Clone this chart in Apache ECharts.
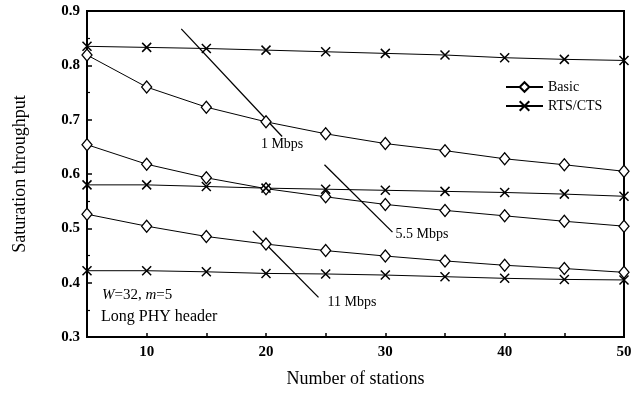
<!DOCTYPE html>
<html>
<head>
<meta charset="utf-8">
<script src="https://cdn.jsdelivr.net/npm/echarts@6/dist/echarts.min.js"></script>
<style>
  html, body { margin: 0; padding: 0; background: #fff; }
  #chart { width: 639px; height: 393px; }
</style>
</head>
<body>
<div id="chart"></div>
<script>
// Number of stations on the x axis
const stations = [5, 10, 15, 20, 25, 30, 35, 40, 45, 50];

// Saturation throughput, basic access vs RTS/CTS, per data rate
const basic1 = [0.819, 0.760, 0.723, 0.696, 0.674, 0.656, 0.643, 0.628, 0.617, 0.605];
const rts1 = [0.835, 0.833, 0.831, 0.828, 0.825, 0.822, 0.819, 0.814, 0.811, 0.809];
const basic55 = [0.654, 0.618, 0.593, 0.573, 0.558, 0.544, 0.533, 0.523, 0.513, 0.504];
const rts55 = [0.580, 0.580, 0.577, 0.574, 0.572, 0.570, 0.568, 0.566, 0.563, 0.559];
const basic11 = [0.526, 0.504, 0.485, 0.471, 0.459, 0.449, 0.440, 0.432, 0.426, 0.419];
const rts11 = [0.422, 0.422, 0.420, 0.417, 0.416, 0.414, 0.411, 0.408, 0.406, 0.405];

// Pointer lines that tag each pair of curves with its data rate
const pointer1 = [[12.9, 0.867], [21.35, 0.669]];
const pointer55 = [[24.9, 0.617], [30.6, 0.493]];
const pointer11 = [[18.9, 0.495], [24.4, 0.373]];
const rateLabels = ['1 Mbps', '5.5 Mbps', '11 Mbps'];

const yTicks = { min: 0.3, max: 0.9, step: 0.1 };

const SERIF = '"Liberation Serif", "DejaVu Serif", serif';
const CROSS = 'path://M0,0L10,10M10,0L0,10';

function pairs(vals) {
  return stations.map((s, i) => [s, vals[i]]);
}

function basicSeries(vals) {
  return {
    name: 'Basic', type: 'line', data: pairs(vals), clip: false,
    symbol: 'diamond', symbolSize: [10, 12],
    itemStyle: { color: '#fff', borderColor: '#000', borderWidth: 1.3 },
    lineStyle: { color: '#000', width: 1 },
    z: 3
  };
}

function rtsSeries(vals) {
  return {
    name: 'RTS/CTS', type: 'line', data: pairs(vals), clip: false,
    symbol: CROSS, symbolSize: 9,
    itemStyle: { color: '#000', borderColor: '#000', borderWidth: 1.5 },
    lineStyle: { color: '#000', width: 1 },
    z: 3
  };
}

function pointerSeries(pts, text, labelOpts) {
  const data = pts.map((p, i) => i === pts.length - 1
    ? { value: p, label: Object.assign({ show: true, formatter: text }, labelOpts) }
    : { value: p });
  return {
    name: text, type: 'line', data: data, clip: false,
    symbol: 'circle', symbolSize: 0.01, showSymbol: true, silent: true,
    itemStyle: { color: 'transparent' },
    lineStyle: { color: '#000', width: 1.3 },
    label: {
      color: '#000', fontFamily: SERIF, fontSize: 14
    },
    z: 2
  };
}

const chart = echarts.init(document.getElementById('chart'), null, { renderer: 'canvas' });

chart.setOption({
  backgroundColor: '#fff',
  animation: false,
  grid: {
    left: 87, right: 15, top: 11, bottom: 55,
    show: true, borderColor: '#000', borderWidth: 2, backgroundColor: 'transparent'
  },
  xAxis: {
    type: 'value', min: 5, max: 50, interval: 5,
    name: 'Number of stations', nameLocation: 'middle', nameGap: 33,
    nameTextStyle: { fontFamily: SERIF, fontSize: 18, color: '#000' },
    axisLine: { show: true, lineStyle: { color: '#000', width: 2 } },
    axisTick: { show: true, inside: true, length: 4, lineStyle: { color: '#000', width: 1.5 } },
    axisLabel: {
      margin: 8, color: '#000', fontFamily: SERIF, fontSize: 15, fontWeight: 'bold',
      formatter: v => (v % 10 === 0 ? String(v) : '')
    },
    splitLine: { show: false }
  },
  yAxis: {
    type: 'value', min: yTicks.min, max: yTicks.max, interval: yTicks.step,
    name: 'Saturation throughput', nameLocation: 'middle', nameGap: 58,
    nameTextStyle: { fontFamily: SERIF, fontSize: 18, color: '#000' },
    axisLine: { show: true, lineStyle: { color: '#000', width: 2 } },
    axisTick: { show: true, inside: true, length: 5, lineStyle: { color: '#000', width: 1.5 } },
    minorTick: { show: true, splitNumber: 2, length: 3, lineStyle: { color: '#000', width: 1.2 } },
    axisLabel: {
      margin: 7, color: '#000', fontFamily: SERIF, fontSize: 15, fontWeight: 'bold',
      formatter: v => v.toFixed(1)
    },
    splitLine: { show: false }
  },
  legend: {
    data: ['Basic', 'RTS/CTS'],
    orient: 'vertical', left: 500, top: 75,
    itemWidth: 37, itemHeight: 12, itemGap: 5,
    textStyle: { fontFamily: SERIF, fontSize: 14, color: '#000' },
    selectedMode: false
  },
  graphic: [
    {
      type: 'text', left: 102, top: 288,
      style: {
        text: '{i|W}=32, {i|m}=5',
        font: '15px ' + SERIF, fill: '#000',
        rich: { i: { fontStyle: 'italic', fontFamily: SERIF, fontSize: 15 } }
      }
    },
    {
      type: 'text', left: 101, top: 309,
      style: { text: 'Long PHY header', font: '16px ' + SERIF, fill: '#000' }
    }
  ],
  series: [
    basicSeries(basic1), rtsSeries(rts1),
    basicSeries(basic55), rtsSeries(rts55),
    basicSeries(basic11), rtsSeries(rts11),
    pointerSeries(pointer1, rateLabels[0], { position: 'bottom', distance: 1, offset: [0, 0] }),
    pointerSeries(pointer55, rateLabels[1], { position: 'right', distance: 3, offset: [0, 2] }),
    pointerSeries(pointer11, rateLabels[2], { position: 'right', distance: 9, offset: [0, 5] })
  ]
});
</script>
</body>
</html>
